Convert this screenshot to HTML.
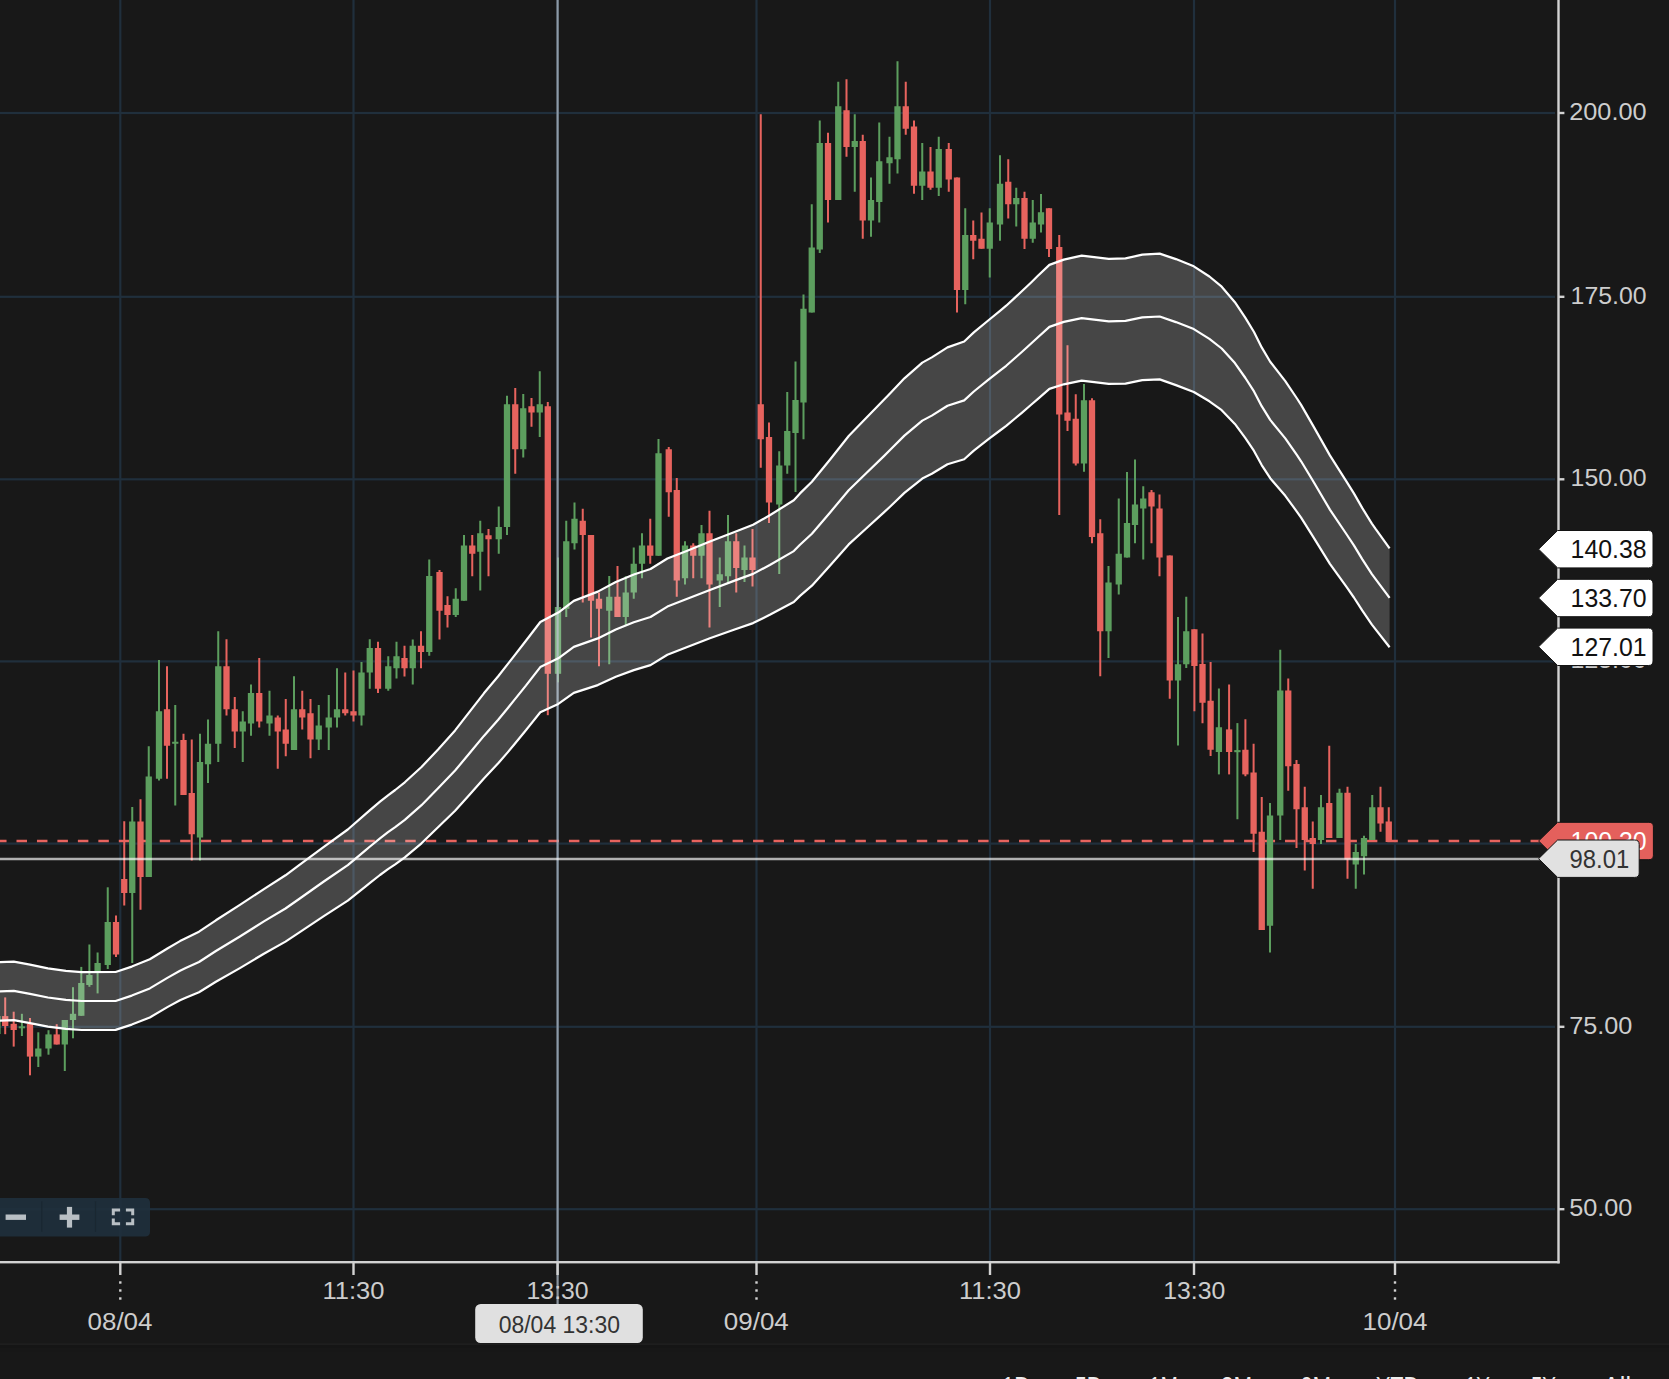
<!DOCTYPE html>
<html lang="en"><head><meta charset="utf-8"><title>Chart</title>
<style>
html,body{margin:0;padding:0;background:#181818;overflow:hidden}
body{width:1669px;height:1379px;position:relative;font-family:"Liberation Sans", sans-serif}
svg{position:absolute;left:0;top:0;display:block}
text{font-family:"Liberation Sans", sans-serif}
.ax{fill:#cdcdcd;font-size:24.6px}
.g{fill:#5c9e5e}
.r{fill:#e7635e}
</style></head><body>
<svg width="1669" height="1379" viewBox="0 0 1669 1379">
<rect x="0" y="0" width="1669" height="1379" fill="#181818"/>
<rect x="0" y="1343.2" width="1669" height="1.8" fill="#1e1e1e"/><rect x="0" y="1345" width="1669" height="3" fill="#151515"/><rect x="0" y="1348" width="1669" height="4" fill="#171717"/>

<g fill="#202f3c">
<rect x="119.20" y="0" width="2.2" height="1261"/>
<rect x="352.40" y="0" width="2.2" height="1261"/>
<rect x="556.50" y="0" width="2.2" height="1261"/>
<rect x="755.40" y="0" width="2.2" height="1261"/>
<rect x="988.90" y="0" width="2.2" height="1261"/>
<rect x="1192.90" y="0" width="2.2" height="1261"/>
<rect x="1393.90" y="0" width="2.2" height="1261"/>
<rect x="0" y="111.90" width="1555" height="2.2"/>
<rect x="0" y="295.70" width="1555" height="2.2"/>
<rect x="0" y="478.20" width="1555" height="2.2"/>
<rect x="0" y="660.30" width="1555" height="2.2"/>
<rect x="0" y="842.50" width="1555" height="2.2"/>
<rect x="0" y="1025.70" width="1555" height="2.2"/>
<rect x="0" y="1208.10" width="1555" height="2.2"/>
</g>
<line x1="-3.96" y1="841" x2="1541" y2="841" stroke="#e7635e" stroke-width="2.3" stroke-dasharray="10.5 9.96"/>
<g>
<rect class="r" x="4.20" y="997.40" width="2.0" height="36.80"/><rect class="r" x="2.05" y="1016.10" width="6.3" height="9.90"/>
<rect class="r" x="12.70" y="1011.70" width="2.0" height="34.90"/><rect class="r" x="10.55" y="1023.80" width="6.3" height="6.20"/>
<rect class="g" x="20.90" y="1013.80" width="2.0" height="22.20"/><rect class="g" x="18.75" y="1026.30" width="6.3" height="2.00"/>
<rect class="r" x="29.00" y="1018.00" width="2.0" height="57.30"/><rect class="r" x="26.85" y="1023.80" width="6.3" height="32.80"/>
<rect class="g" x="37.30" y="1032.30" width="2.0" height="34.70"/><rect class="g" x="35.15" y="1048.50" width="6.3" height="8.10"/>
<rect class="g" x="47.50" y="1030.20" width="2.0" height="24.50"/><rect class="g" x="45.35" y="1034.40" width="6.3" height="14.10"/>
<rect class="r" x="55.70" y="1024.20" width="2.0" height="20.30"/><rect class="r" x="53.55" y="1034.40" width="6.3" height="10.10"/>
<rect class="g" x="63.80" y="1020.00" width="2.0" height="51.00"/><rect class="g" x="61.65" y="1020.00" width="6.3" height="24.50"/>
<rect class="g" x="72.00" y="987.20" width="2.0" height="51.10"/><rect class="g" x="69.85" y="1013.80" width="6.3" height="6.20"/>
<rect class="g" x="80.30" y="966.90" width="2.0" height="48.90"/><rect class="g" x="78.15" y="983.00" width="6.3" height="32.80"/>
<rect class="g" x="88.40" y="944.50" width="2.0" height="42.30"/><rect class="g" x="86.25" y="975.00" width="6.3" height="10.00"/>
<rect class="g" x="96.60" y="952.50" width="2.0" height="40.90"/><rect class="g" x="94.45" y="963.00" width="6.3" height="8.00"/>
<rect class="g" x="106.75" y="887.30" width="2.0" height="81.70"/><rect class="g" x="104.60" y="922.00" width="6.3" height="43.00"/>
<rect class="r" x="115.00" y="915.50" width="2.0" height="41.50"/><rect class="r" x="112.85" y="922.00" width="6.3" height="32.50"/>
<rect class="r" x="123.25" y="821.25" width="2.0" height="84.25"/><rect class="r" x="121.10" y="879.00" width="6.3" height="14.00"/>
<rect class="g" x="131.25" y="807.00" width="2.0" height="156.00"/><rect class="g" x="129.10" y="821.50" width="6.3" height="71.50"/>
<rect class="r" x="139.50" y="799.25" width="2.0" height="110.50"/><rect class="r" x="137.35" y="821.50" width="6.3" height="55.50"/>
<rect class="g" x="147.75" y="746.25" width="2.0" height="130.75"/><rect class="g" x="145.60" y="776.50" width="6.3" height="100.50"/>
<rect class="g" x="158.00" y="660.00" width="2.0" height="120.50"/><rect class="g" x="155.85" y="711.25" width="6.3" height="67.50"/>
<rect class="r" x="166.00" y="666.25" width="2.0" height="112.50"/><rect class="r" x="163.85" y="709.25" width="6.3" height="36.50"/>
<rect class="g" x="174.25" y="705.00" width="2.0" height="100.50"/><rect class="g" x="172.10" y="741.75" width="6.3" height="2.00"/>
<rect class="r" x="182.50" y="733.75" width="2.0" height="61.25"/><rect class="r" x="180.35" y="740.00" width="6.3" height="55.00"/>
<rect class="r" x="190.75" y="739.50" width="2.0" height="121.00"/><rect class="r" x="188.60" y="793.00" width="6.3" height="41.25"/>
<rect class="g" x="199.00" y="733.75" width="2.0" height="126.75"/><rect class="g" x="196.85" y="762.00" width="6.3" height="75.50"/>
<rect class="g" x="207.00" y="719.50" width="2.0" height="63.50"/><rect class="g" x="204.85" y="743.75" width="6.3" height="20.50"/>
<rect class="g" x="217.25" y="631.25" width="2.0" height="130.75"/><rect class="g" x="215.10" y="666.25" width="6.3" height="77.50"/>
<rect class="r" x="225.50" y="639.25" width="2.0" height="76.25"/><rect class="r" x="223.35" y="666.25" width="6.3" height="43.00"/>
<rect class="r" x="233.75" y="697.00" width="2.0" height="51.00"/><rect class="r" x="231.60" y="709.25" width="6.3" height="22.25"/>
<rect class="g" x="241.75" y="711.25" width="2.0" height="50.75"/><rect class="g" x="239.60" y="721.50" width="6.3" height="10.00"/>
<rect class="g" x="250.00" y="684.50" width="2.0" height="51.25"/><rect class="g" x="247.85" y="693.00" width="6.3" height="30.50"/>
<rect class="r" x="258.25" y="658.00" width="2.0" height="69.50"/><rect class="r" x="256.10" y="693.00" width="6.3" height="28.50"/>
<rect class="g" x="268.50" y="690.75" width="2.0" height="45.00"/><rect class="g" x="266.35" y="715.50" width="6.3" height="8.00"/>
<rect class="r" x="276.75" y="715.50" width="2.0" height="53.25"/><rect class="r" x="274.60" y="717.50" width="6.3" height="14.00"/>
<rect class="r" x="284.75" y="699.00" width="2.0" height="57.25"/><rect class="r" x="282.60" y="729.50" width="6.3" height="14.25"/>
<rect class="g" x="293.00" y="676.25" width="2.0" height="73.75"/><rect class="g" x="290.85" y="709.25" width="6.3" height="40.75"/>
<rect class="r" x="301.25" y="690.75" width="2.0" height="38.75"/><rect class="r" x="299.10" y="709.25" width="6.3" height="8.25"/>
<rect class="r" x="309.50" y="699.00" width="2.0" height="59.25"/><rect class="r" x="307.35" y="713.25" width="6.3" height="26.25"/>
<rect class="g" x="317.75" y="705.00" width="2.0" height="45.00"/><rect class="g" x="315.60" y="725.50" width="6.3" height="14.00"/>
<rect class="g" x="327.75" y="695.00" width="2.0" height="55.00"/><rect class="g" x="325.60" y="717.50" width="6.3" height="10.00"/>
<rect class="g" x="336.00" y="668.25" width="2.0" height="59.25"/><rect class="g" x="333.85" y="709.25" width="6.3" height="8.25"/>
<rect class="r" x="344.25" y="672.50" width="2.0" height="43.00"/><rect class="r" x="342.10" y="709.25" width="6.3" height="4.00"/>
<rect class="r" x="352.50" y="670.50" width="2.0" height="51.00"/><rect class="r" x="350.35" y="711.25" width="6.3" height="4.25"/>
<rect class="g" x="360.50" y="662.00" width="2.0" height="63.50"/><rect class="g" x="358.35" y="672.50" width="6.3" height="43.00"/>
<rect class="g" x="368.75" y="639.25" width="2.0" height="49.50"/><rect class="g" x="366.60" y="648.00" width="6.3" height="24.50"/>
<rect class="r" x="377.00" y="641.75" width="2.0" height="51.25"/><rect class="r" x="374.85" y="648.00" width="6.3" height="40.75"/>
<rect class="g" x="387.25" y="656.25" width="2.0" height="34.50"/><rect class="g" x="385.10" y="666.25" width="6.3" height="22.50"/>
<rect class="g" x="395.50" y="641.75" width="2.0" height="36.75"/><rect class="g" x="393.35" y="656.25" width="6.3" height="12.00"/>
<rect class="r" x="403.50" y="645.75" width="2.0" height="30.75"/><rect class="r" x="401.35" y="658.00" width="6.3" height="10.25"/>
<rect class="g" x="411.75" y="639.50" width="2.0" height="45.00"/><rect class="g" x="409.60" y="645.75" width="6.3" height="22.50"/>
<rect class="r" x="420.00" y="631.25" width="2.0" height="37.00"/><rect class="r" x="417.85" y="645.75" width="6.3" height="6.25"/>
<rect class="g" x="428.25" y="559.50" width="2.0" height="96.25"/><rect class="g" x="426.10" y="576.00" width="6.3" height="76.00"/>
<rect class="r" x="438.50" y="570.00" width="2.0" height="69.50"/><rect class="r" x="436.35" y="572.00" width="6.3" height="38.75"/>
<rect class="r" x="446.50" y="596.25" width="2.0" height="31.25"/><rect class="r" x="444.35" y="605.00" width="6.3" height="10.00"/>
<rect class="g" x="454.75" y="588.25" width="2.0" height="28.75"/><rect class="g" x="452.60" y="598.75" width="6.3" height="16.25"/>
<rect class="g" x="463.00" y="535.00" width="2.0" height="65.75"/><rect class="g" x="460.85" y="545.50" width="6.3" height="55.25"/>
<rect class="r" x="471.25" y="535.00" width="2.0" height="41.25"/><rect class="r" x="469.10" y="545.50" width="6.3" height="8.25"/>
<rect class="g" x="479.25" y="520.75" width="2.0" height="69.75"/><rect class="g" x="477.10" y="533.25" width="6.3" height="18.50"/>
<rect class="r" x="487.50" y="529.00" width="2.0" height="47.25"/><rect class="r" x="485.35" y="535.25" width="6.3" height="4.00"/>
<rect class="g" x="497.75" y="506.50" width="2.0" height="47.25"/><rect class="g" x="495.60" y="527.00" width="6.3" height="12.25"/>
<rect class="g" x="506.00" y="395.75" width="2.0" height="139.25"/><rect class="g" x="503.85" y="404.25" width="6.3" height="122.75"/>
<rect class="r" x="514.25" y="388.00" width="2.0" height="85.75"/><rect class="r" x="512.10" y="404.25" width="6.3" height="45.00"/>
<rect class="g" x="522.25" y="394.00" width="2.0" height="63.50"/><rect class="g" x="520.10" y="408.25" width="6.3" height="41.00"/>
<rect class="r" x="530.50" y="398.00" width="2.0" height="28.75"/><rect class="r" x="528.35" y="406.25" width="6.3" height="6.25"/>
<rect class="g" x="538.75" y="371.25" width="2.0" height="65.75"/><rect class="g" x="536.60" y="404.25" width="6.3" height="8.25"/>
<rect class="r" x="546.80" y="402.00" width="2.0" height="313.20"/><rect class="r" x="544.65" y="406.25" width="6.3" height="267.55"/>
<rect class="g" x="557.00" y="557.50" width="2.0" height="124.80"/><rect class="g" x="554.85" y="607.00" width="6.3" height="66.80"/>
<rect class="g" x="565.25" y="520.75" width="2.0" height="96.25"/><rect class="g" x="563.10" y="541.25" width="6.3" height="67.50"/>
<rect class="g" x="573.50" y="502.50" width="2.0" height="47.00"/><rect class="g" x="571.35" y="518.75" width="6.3" height="24.50"/>
<rect class="r" x="581.75" y="508.75" width="2.0" height="93.75"/><rect class="r" x="579.60" y="520.75" width="6.3" height="14.25"/>
<rect class="r" x="590.00" y="535.00" width="2.0" height="102.50"/><rect class="r" x="587.85" y="535.00" width="6.3" height="65.75"/>
<rect class="r" x="598.00" y="592.50" width="2.0" height="73.75"/><rect class="r" x="595.85" y="598.75" width="6.3" height="10.00"/>
<rect class="g" x="608.25" y="576.00" width="2.0" height="88.25"/><rect class="g" x="606.10" y="596.75" width="6.3" height="14.00"/>
<rect class="r" x="616.50" y="566.00" width="2.0" height="51.00"/><rect class="r" x="614.35" y="596.75" width="6.3" height="20.25"/>
<rect class="g" x="624.75" y="576.25" width="2.0" height="48.75"/><rect class="g" x="622.60" y="592.50" width="6.3" height="24.50"/>
<rect class="g" x="632.75" y="547.50" width="2.0" height="51.25"/><rect class="g" x="630.60" y="563.75" width="6.3" height="28.75"/>
<rect class="g" x="641.00" y="533.25" width="2.0" height="45.00"/><rect class="g" x="638.85" y="545.50" width="6.3" height="18.25"/>
<rect class="r" x="649.25" y="518.75" width="2.0" height="45.00"/><rect class="r" x="647.10" y="545.50" width="6.3" height="10.25"/>
<rect class="g" x="657.50" y="439.00" width="2.0" height="116.75"/><rect class="g" x="655.35" y="453.25" width="6.3" height="102.50"/>
<rect class="r" x="667.75" y="447.00" width="2.0" height="69.75"/><rect class="r" x="665.60" y="449.25" width="6.3" height="43.00"/>
<rect class="r" x="675.75" y="478.00" width="2.0" height="118.75"/><rect class="r" x="673.60" y="490.00" width="6.3" height="90.50"/>
<rect class="g" x="684.00" y="541.25" width="2.0" height="43.25"/><rect class="g" x="681.85" y="545.50" width="6.3" height="32.75"/>
<rect class="r" x="692.25" y="543.25" width="2.0" height="35.00"/><rect class="r" x="690.10" y="545.50" width="6.3" height="10.25"/>
<rect class="g" x="700.50" y="525.00" width="2.0" height="53.25"/><rect class="g" x="698.35" y="533.25" width="6.3" height="22.50"/>
<rect class="r" x="708.50" y="510.75" width="2.0" height="116.75"/><rect class="r" x="706.35" y="533.25" width="6.3" height="51.25"/>
<rect class="g" x="718.75" y="557.50" width="2.0" height="49.50"/><rect class="g" x="716.60" y="574.25" width="6.3" height="6.25"/>
<rect class="g" x="727.00" y="515.00" width="2.0" height="67.50"/><rect class="g" x="724.85" y="541.25" width="6.3" height="35.00"/>
<rect class="r" x="735.25" y="533.25" width="2.0" height="59.25"/><rect class="r" x="733.10" y="541.25" width="6.3" height="26.75"/>
<rect class="g" x="743.50" y="545.50" width="2.0" height="36.50"/><rect class="g" x="741.35" y="557.50" width="6.3" height="12.50"/>
<rect class="r" x="751.50" y="529.00" width="2.0" height="57.50"/><rect class="r" x="749.35" y="557.50" width="6.3" height="12.50"/>
<rect class="r" x="759.75" y="114.25" width="2.0" height="353.50"/><rect class="r" x="757.60" y="404.25" width="6.3" height="35.00"/>
<rect class="r" x="768.00" y="422.50" width="2.0" height="100.50"/><rect class="r" x="765.85" y="437.00" width="6.3" height="65.50"/>
<rect class="g" x="778.25" y="451.25" width="2.0" height="122.75"/><rect class="g" x="776.10" y="465.50" width="6.3" height="39.00"/>
<rect class="g" x="786.25" y="392.00" width="2.0" height="81.75"/><rect class="g" x="784.10" y="431.00" width="6.3" height="34.50"/>
<rect class="g" x="794.50" y="361.50" width="2.0" height="130.50"/><rect class="g" x="792.35" y="400.00" width="6.3" height="33.00"/>
<rect class="g" x="802.50" y="294.50" width="2.0" height="144.75"/><rect class="g" x="800.35" y="308.75" width="6.3" height="93.75"/>
<rect class="g" x="810.75" y="204.25" width="2.0" height="108.25"/><rect class="g" x="808.60" y="247.50" width="6.3" height="65.00"/>
<rect class="g" x="818.75" y="120.50" width="2.0" height="132.50"/><rect class="g" x="816.60" y="143.00" width="6.3" height="106.50"/>
<rect class="r" x="827.00" y="132.75" width="2.0" height="89.75"/><rect class="r" x="824.85" y="143.00" width="6.3" height="57.00"/>
<rect class="g" x="837.25" y="81.75" width="2.0" height="118.25"/><rect class="g" x="835.10" y="106.25" width="6.3" height="93.75"/>
<rect class="r" x="845.50" y="79.25" width="2.0" height="77.50"/><rect class="r" x="843.35" y="110.25" width="6.3" height="36.75"/>
<rect class="g" x="853.75" y="114.25" width="2.0" height="77.50"/><rect class="g" x="851.60" y="141.00" width="6.3" height="6.00"/>
<rect class="r" x="861.75" y="134.75" width="2.0" height="104.00"/><rect class="r" x="859.60" y="141.00" width="6.3" height="79.50"/>
<rect class="g" x="870.00" y="177.50" width="2.0" height="59.25"/><rect class="g" x="867.85" y="200.00" width="6.3" height="20.50"/>
<rect class="g" x="878.25" y="122.50" width="2.0" height="100.00"/><rect class="g" x="876.10" y="161.25" width="6.3" height="40.75"/>
<rect class="g" x="888.50" y="136.75" width="2.0" height="47.00"/><rect class="g" x="886.35" y="157.25" width="6.3" height="6.00"/>
<rect class="g" x="896.50" y="61.25" width="2.0" height="112.25"/><rect class="g" x="894.35" y="106.25" width="6.3" height="53.00"/>
<rect class="r" x="904.75" y="81.75" width="2.0" height="53.00"/><rect class="r" x="902.60" y="106.25" width="6.3" height="22.50"/>
<rect class="r" x="913.00" y="120.50" width="2.0" height="73.25"/><rect class="r" x="910.85" y="126.50" width="6.3" height="59.25"/>
<rect class="g" x="921.25" y="143.00" width="2.0" height="57.00"/><rect class="g" x="919.10" y="171.50" width="6.3" height="14.25"/>
<rect class="r" x="929.50" y="147.00" width="2.0" height="42.75"/><rect class="r" x="927.35" y="171.50" width="6.3" height="16.25"/>
<rect class="g" x="937.75" y="136.75" width="2.0" height="59.25"/><rect class="g" x="935.60" y="149.00" width="6.3" height="38.75"/>
<rect class="r" x="947.75" y="143.00" width="2.0" height="48.75"/><rect class="r" x="945.60" y="149.00" width="6.3" height="30.50"/>
<rect class="r" x="956.00" y="177.50" width="2.0" height="135.00"/><rect class="r" x="953.85" y="177.50" width="6.3" height="112.50"/>
<rect class="g" x="964.25" y="208.25" width="2.0" height="96.00"/><rect class="g" x="962.10" y="235.00" width="6.3" height="55.00"/>
<rect class="r" x="972.25" y="220.50" width="2.0" height="38.75"/><rect class="r" x="970.10" y="235.00" width="6.3" height="5.75"/>
<rect class="r" x="980.50" y="212.50" width="2.0" height="36.25"/><rect class="r" x="978.35" y="238.75" width="6.3" height="10.00"/>
<rect class="g" x="988.75" y="208.25" width="2.0" height="69.25"/><rect class="g" x="986.60" y="222.50" width="6.3" height="26.25"/>
<rect class="g" x="999.00" y="155.25" width="2.0" height="85.50"/><rect class="g" x="996.85" y="183.75" width="6.3" height="40.75"/>
<rect class="r" x="1007.25" y="159.25" width="2.0" height="59.25"/><rect class="r" x="1005.10" y="181.75" width="6.3" height="22.50"/>
<rect class="g" x="1015.25" y="187.75" width="2.0" height="38.75"/><rect class="g" x="1013.10" y="198.00" width="6.3" height="6.25"/>
<rect class="r" x="1023.50" y="191.75" width="2.0" height="57.25"/><rect class="r" x="1021.35" y="198.00" width="6.3" height="40.75"/>
<rect class="g" x="1031.75" y="200.00" width="2.0" height="42.75"/><rect class="g" x="1029.60" y="222.50" width="6.3" height="16.25"/>
<rect class="g" x="1040.00" y="194.00" width="2.0" height="38.50"/><rect class="g" x="1037.85" y="212.25" width="6.3" height="12.25"/>
<rect class="r" x="1048.00" y="208.25" width="2.0" height="48.75"/><rect class="r" x="1045.85" y="208.25" width="6.3" height="40.75"/>
<rect class="r" x="1058.25" y="235.00" width="2.0" height="280.00"/><rect class="r" x="1056.10" y="247.00" width="6.3" height="167.50"/>
<rect class="r" x="1066.50" y="345.25" width="2.0" height="85.75"/><rect class="r" x="1064.35" y="412.50" width="6.3" height="8.25"/>
<rect class="r" x="1074.75" y="394.25" width="2.0" height="71.25"/><rect class="r" x="1072.60" y="418.75" width="6.3" height="44.75"/>
<rect class="g" x="1083.00" y="384.00" width="2.0" height="87.75"/><rect class="g" x="1080.85" y="400.25" width="6.3" height="63.25"/>
<rect class="r" x="1091.00" y="398.25" width="2.0" height="145.00"/><rect class="r" x="1088.85" y="400.25" width="6.3" height="136.75"/>
<rect class="r" x="1099.25" y="519.25" width="2.0" height="157.00"/><rect class="r" x="1097.10" y="533.25" width="6.3" height="98.00"/>
<rect class="g" x="1107.50" y="566.00" width="2.0" height="92.00"/><rect class="g" x="1105.35" y="582.50" width="6.3" height="48.75"/>
<rect class="g" x="1117.75" y="498.50" width="2.0" height="96.00"/><rect class="g" x="1115.60" y="553.75" width="6.3" height="30.75"/>
<rect class="g" x="1126.00" y="472.00" width="2.0" height="85.50"/><rect class="g" x="1123.85" y="523.00" width="6.3" height="34.50"/>
<rect class="g" x="1134.00" y="459.50" width="2.0" height="83.75"/><rect class="g" x="1131.85" y="504.50" width="6.3" height="20.50"/>
<rect class="g" x="1142.25" y="486.25" width="2.0" height="73.25"/><rect class="g" x="1140.10" y="498.50" width="6.3" height="10.00"/>
<rect class="r" x="1150.50" y="490.00" width="2.0" height="53.25"/><rect class="r" x="1148.35" y="492.25" width="6.3" height="14.25"/>
<rect class="r" x="1158.50" y="494.50" width="2.0" height="81.75"/><rect class="r" x="1156.35" y="508.50" width="6.3" height="49.00"/>
<rect class="r" x="1168.75" y="555.50" width="2.0" height="143.25"/><rect class="r" x="1166.60" y="555.50" width="6.3" height="125.00"/>
<rect class="g" x="1177.00" y="617.00" width="2.0" height="128.50"/><rect class="g" x="1174.85" y="664.25" width="6.3" height="16.25"/>
<rect class="g" x="1185.25" y="596.75" width="2.0" height="71.25"/><rect class="g" x="1183.10" y="631.25" width="6.3" height="33.00"/>
<rect class="r" x="1193.40" y="629.25" width="2.0" height="82.00"/><rect class="r" x="1191.25" y="629.25" width="6.3" height="36.75"/>
<rect class="r" x="1201.50" y="633.50" width="2.0" height="89.75"/><rect class="r" x="1199.35" y="664.00" width="6.3" height="38.75"/>
<rect class="r" x="1209.60" y="662.00" width="2.0" height="94.00"/><rect class="r" x="1207.45" y="700.75" width="6.3" height="49.00"/>
<rect class="g" x="1217.90" y="688.50" width="2.0" height="85.90"/><rect class="g" x="1215.75" y="727.25" width="6.3" height="24.75"/>
<rect class="r" x="1228.10" y="684.50" width="2.0" height="89.90"/><rect class="r" x="1225.95" y="729.40" width="6.3" height="22.60"/>
<rect class="g" x="1236.40" y="723.10" width="2.0" height="96.15"/><rect class="g" x="1234.25" y="750.10" width="6.3" height="2.10"/>
<rect class="r" x="1244.40" y="719.25" width="2.0" height="57.00"/><rect class="r" x="1242.25" y="749.75" width="6.3" height="24.65"/>
<rect class="r" x="1252.60" y="743.75" width="2.0" height="108.25"/><rect class="r" x="1250.45" y="772.50" width="6.3" height="61.25"/>
<rect class="r" x="1260.75" y="797.00" width="2.0" height="133.00"/><rect class="r" x="1258.60" y="831.75" width="6.3" height="98.25"/>
<rect class="g" x="1269.00" y="803.00" width="2.0" height="149.50"/><rect class="g" x="1266.85" y="815.50" width="6.3" height="110.25"/>
<rect class="g" x="1279.25" y="649.75" width="2.0" height="190.25"/><rect class="g" x="1277.10" y="690.50" width="6.3" height="125.00"/>
<rect class="r" x="1287.25" y="678.50" width="2.0" height="112.25"/><rect class="r" x="1285.10" y="690.50" width="6.3" height="75.75"/>
<rect class="r" x="1295.50" y="760.00" width="2.0" height="88.00"/><rect class="r" x="1293.35" y="764.00" width="6.3" height="45.25"/>
<rect class="r" x="1303.75" y="786.75" width="2.0" height="83.75"/><rect class="r" x="1301.60" y="807.25" width="6.3" height="32.75"/>
<rect class="r" x="1311.75" y="821.50" width="2.0" height="67.25"/><rect class="r" x="1309.60" y="838.00" width="6.3" height="6.00"/>
<rect class="g" x="1320.00" y="795.00" width="2.0" height="49.00"/><rect class="g" x="1317.85" y="807.25" width="6.3" height="32.75"/>
<rect class="r" x="1328.25" y="745.75" width="2.0" height="92.25"/><rect class="r" x="1326.10" y="803.00" width="6.3" height="35.00"/>
<rect class="g" x="1338.50" y="788.75" width="2.0" height="49.25"/><rect class="g" x="1336.35" y="792.75" width="6.3" height="45.25"/>
<rect class="r" x="1346.50" y="786.75" width="2.0" height="92.00"/><rect class="r" x="1344.35" y="792.75" width="6.3" height="66.75"/>
<rect class="g" x="1354.75" y="844.00" width="2.0" height="44.75"/><rect class="g" x="1352.60" y="852.00" width="6.3" height="12.50"/>
<rect class="g" x="1363.00" y="835.75" width="2.0" height="38.75"/><rect class="g" x="1360.85" y="838.00" width="6.3" height="18.25"/>
<rect class="g" x="1371.25" y="795.00" width="2.0" height="45.00"/><rect class="g" x="1369.10" y="807.25" width="6.3" height="32.75"/>
<rect class="r" x="1379.50" y="786.75" width="2.0" height="45.00"/><rect class="r" x="1377.35" y="807.25" width="6.3" height="16.25"/>
<rect class="r" x="1387.75" y="807.25" width="2.0" height="34.75"/><rect class="r" x="1385.60" y="821.50" width="6.3" height="20.50"/>
<rect class="g" x="-2" y="1016" width="2.6" height="18"/>
</g>
<rect x="556.50" y="0" width="2.2" height="1305" fill="#a9b4c0" fill-opacity="0.8"/>
<rect x="0" y="857.75" width="1541" height="2.5" fill="#ffffff" fill-opacity="0.66"/>
<polygon points="-3.0,962.2 0.0,962.2 13.8,961.6 30.0,964.7 47.9,968.4 65.9,970.9 81.5,972.1 115.6,972.0 131.8,966.6 149.8,959.3 167.8,948.2 180.0,941.1 185.7,938.3 199.0,931.7 215.9,920.3 239.9,904.9 263.9,889.1 285.5,875.3 299.8,864.7 323.8,846.9 347.8,829.5 365.7,813.9 370.0,810.1 380.0,801.6 388.0,795.3 395.2,790.0 404.8,782.3 421.5,767.0 438.3,749.2 455.1,730.4 469.5,711.9 483.9,693.3 498.2,676.2 507.9,663.9 513.8,656.3 525.9,640.8 529.2,636.5 540.3,622.0 558.3,612.6 573.8,600.9 597.8,591.6 615.8,582.0 633.8,574.5 650.5,569.0 667.4,558.5 686.0,551.2 709.9,541.6 733.9,532.2 753.1,524.7 769.8,515.3 793.8,500.2 800.0,493.4 811.9,481.7 829.9,459.7 848.7,436.0 865.9,418.2 883.9,399.8 890.0,393.4 904.4,378.3 922.3,362.6 931.8,357.4 947.5,347.4 964.2,341.5 973.8,332.4 988.8,320.0 1000.0,310.9 1006.2,305.7 1015.0,297.6 1021.8,291.3 1031.4,282.2 1037.4,276.3 1049.4,264.9 1063.8,259.6 1081.7,255.6 1108.8,258.8 1125.5,258.3 1142.3,254.7 1159.7,253.6 1175.9,259.1 1193.8,266.3 1209.4,276.5 1221.7,286.7 1234.9,302.2 1245.4,317.9 1254.0,332.0 1261.7,347.4 1270.2,361.7 1285.3,381.1 1297.0,398.5 1301.1,404.9 1313.2,425.9 1329.9,455.4 1346.7,481.8 1353.9,493.4 1362.2,507.9 1371.9,523.6 1375.4,528.7 1389.6,548.4 1389.6,647.2 1375.4,629.2 1371.9,624.6 1362.2,610.4 1353.9,597.5 1346.7,587.2 1329.9,563.8 1313.2,536.8 1301.1,517.6 1297.0,511.8 1285.3,495.8 1270.2,478.2 1261.7,465.1 1254.0,450.9 1245.4,438.2 1234.9,423.9 1221.7,410.2 1209.4,401.3 1193.8,392.0 1175.9,385.1 1159.7,379.4 1142.3,380.2 1125.5,383.6 1108.8,383.8 1081.7,380.6 1063.8,384.3 1049.4,388.9 1037.4,399.3 1031.4,404.5 1021.8,412.8 1015.0,418.5 1006.2,425.9 1000.0,430.5 988.8,438.9 973.8,450.6 964.2,459.3 947.5,464.3 931.8,473.8 922.3,478.6 904.4,492.9 890.0,506.7 883.9,512.4 865.9,528.7 848.7,544.4 829.9,565.8 811.9,585.7 800.0,595.9 793.8,602.0 769.8,614.8 753.1,623.1 733.9,629.7 709.9,638.3 686.0,647.4 667.4,654.7 650.5,665.1 633.8,670.1 615.8,676.7 597.8,685.1 573.8,692.9 558.3,703.9 540.3,712.2 529.2,726.1 525.9,730.3 513.8,745.0 507.9,752.1 498.2,763.3 483.9,778.4 469.5,794.7 455.1,810.7 438.3,827.0 421.5,843.3 404.8,857.3 395.2,864.3 388.0,869.2 380.0,875.0 370.0,882.9 365.7,886.3 347.8,900.6 323.8,916.2 299.8,932.2 285.5,941.6 263.9,953.7 239.9,968.1 215.9,981.8 199.0,992.2 185.7,997.8 180.0,1000.3 167.8,1006.9 149.8,1017.5 131.8,1024.6 115.6,1029.9 81.5,1030.0 65.9,1028.9 47.9,1026.6 30.0,1023.1 13.8,1020.1 0.0,1020.6 -3.0,1020.6" fill="#ffffff" fill-opacity="0.2"/>
<polyline points="-3.0,962.2 0.0,962.2 13.8,961.6 30.0,964.7 47.9,968.4 65.9,970.9 81.5,972.1 115.6,972.0 131.8,966.6 149.8,959.3 167.8,948.2 180.0,941.1 185.7,938.3 199.0,931.7 215.9,920.3 239.9,904.9 263.9,889.1 285.5,875.3 299.8,864.7 323.8,846.9 347.8,829.5 365.7,813.9 370.0,810.1 380.0,801.6 388.0,795.3 395.2,790.0 404.8,782.3 421.5,767.0 438.3,749.2 455.1,730.4 469.5,711.9 483.9,693.3 498.2,676.2 507.9,663.9 513.8,656.3 525.9,640.8 529.2,636.5 540.3,622.0 558.3,612.6 573.8,600.9 597.8,591.6 615.8,582.0 633.8,574.5 650.5,569.0 667.4,558.5 686.0,551.2 709.9,541.6 733.9,532.2 753.1,524.7 769.8,515.3 793.8,500.2 800.0,493.4 811.9,481.7 829.9,459.7 848.7,436.0 865.9,418.2 883.9,399.8 890.0,393.4 904.4,378.3 922.3,362.6 931.8,357.4 947.5,347.4 964.2,341.5 973.8,332.4 988.8,320.0 1000.0,310.9 1006.2,305.7 1015.0,297.6 1021.8,291.3 1031.4,282.2 1037.4,276.3 1049.4,264.9 1063.8,259.6 1081.7,255.6 1108.8,258.8 1125.5,258.3 1142.3,254.7 1159.7,253.6 1175.9,259.1 1193.8,266.3 1209.4,276.5 1221.7,286.7 1234.9,302.2 1245.4,317.9 1254.0,332.0 1261.7,347.4 1270.2,361.7 1285.3,381.1 1297.0,398.5 1301.1,404.9 1313.2,425.9 1329.9,455.4 1346.7,481.8 1353.9,493.4 1362.2,507.9 1371.9,523.6 1375.4,528.7 1389.6,548.4" fill="none" stroke="#ffffff" stroke-width="2.2" stroke-linejoin="round" stroke-linecap="butt"/>
<polyline points="-3.0,991.4 0.0,991.4 13.8,990.8 30.0,993.9 47.9,997.5 65.9,999.9 81.5,1001.0 115.6,1001.0 131.8,995.6 149.8,988.4 167.8,977.6 180.0,970.7 185.7,968.1 199.0,962.0 215.9,951.0 239.9,936.5 263.9,921.4 285.5,908.5 299.8,898.5 323.8,881.5 347.8,865.1 365.7,850.1 370.0,846.5 380.0,838.3 388.0,832.2 395.2,827.1 404.8,819.8 421.5,805.2 438.3,788.1 455.1,770.5 469.5,753.3 483.9,735.9 498.2,719.7 507.9,708.0 513.8,700.6 525.9,685.6 529.2,681.3 540.3,667.1 558.3,658.3 573.8,646.9 597.8,638.4 615.8,629.4 633.8,622.3 650.5,617.0 667.4,606.6 686.0,599.3 709.9,589.9 733.9,580.9 753.1,573.9 769.8,565.0 793.8,551.1 800.0,544.7 811.9,533.7 829.9,512.7 848.7,490.2 865.9,473.5 883.9,456.1 890.0,450.0 904.4,435.6 922.3,420.6 931.8,415.6 947.5,405.8 964.2,400.4 973.8,391.5 988.8,379.4 1000.0,370.7 1006.2,365.8 1015.0,358.0 1021.8,352.0 1031.4,343.3 1037.4,337.8 1049.4,326.9 1063.8,321.9 1081.7,318.1 1108.8,321.3 1125.5,320.9 1142.3,317.4 1159.7,316.5 1175.9,322.1 1193.8,329.1 1209.4,338.9 1221.7,348.5 1234.9,363.1 1245.4,378.0 1254.0,391.4 1261.7,406.2 1270.2,419.9 1285.3,438.4 1297.0,455.2 1301.1,461.3 1313.2,481.3 1329.9,509.6 1346.7,534.5 1353.9,545.4 1362.2,559.1 1371.9,574.1 1375.4,578.9 1389.6,597.8" fill="none" stroke="#ffffff" stroke-width="2.2" stroke-linejoin="round" stroke-linecap="butt"/>
<polyline points="-3.0,1020.6 0.0,1020.6 13.8,1020.1 30.0,1023.1 47.9,1026.6 65.9,1028.9 81.5,1030.0 115.6,1029.9 131.8,1024.6 149.8,1017.5 167.8,1006.9 180.0,1000.3 185.7,997.8 199.0,992.2 215.9,981.8 239.9,968.1 263.9,953.7 285.5,941.6 299.8,932.2 323.8,916.2 347.8,900.6 365.7,886.3 370.0,882.9 380.0,875.0 388.0,869.2 395.2,864.3 404.8,857.3 421.5,843.3 438.3,827.0 455.1,810.7 469.5,794.7 483.9,778.4 498.2,763.3 507.9,752.1 513.8,745.0 525.9,730.3 529.2,726.1 540.3,712.2 558.3,703.9 573.8,692.9 597.8,685.1 615.8,676.7 633.8,670.1 650.5,665.1 667.4,654.7 686.0,647.4 709.9,638.3 733.9,629.7 753.1,623.1 769.8,614.8 793.8,602.0 800.0,595.9 811.9,585.7 829.9,565.8 848.7,544.4 865.9,528.7 883.9,512.4 890.0,506.7 904.4,492.9 922.3,478.6 931.8,473.8 947.5,464.3 964.2,459.3 973.8,450.6 988.8,438.9 1000.0,430.5 1006.2,425.9 1015.0,418.5 1021.8,412.8 1031.4,404.5 1037.4,399.3 1049.4,388.9 1063.8,384.3 1081.7,380.6 1108.8,383.8 1125.5,383.6 1142.3,380.2 1159.7,379.4 1175.9,385.1 1193.8,392.0 1209.4,401.3 1221.7,410.2 1234.9,423.9 1245.4,438.2 1254.0,450.9 1261.7,465.1 1270.2,478.2 1285.3,495.8 1297.0,511.8 1301.1,517.6 1313.2,536.8 1329.9,563.8 1346.7,587.2 1353.9,597.5 1362.2,610.4 1371.9,624.6 1375.4,629.2 1389.6,647.2" fill="none" stroke="#ffffff" stroke-width="2.2" stroke-linejoin="round" stroke-linecap="butt"/>
<rect x="0" y="1261" width="1559.6" height="2.4" fill="#d2d2d2"/>
<rect x="1557.3" y="0" width="2.4" height="1263.4" fill="#d2d2d2"/>
<rect x="1558" y="111.80" width="6.4" height="2.4" fill="#d2d2d2"/>
<text class="ax" x="1569.2" y="120.00" textLength="77.4" lengthAdjust="spacingAndGlyphs">200.00</text>
<rect x="1558" y="295.60" width="6.4" height="2.4" fill="#d2d2d2"/>
<text class="ax" x="1570.6" y="303.80" textLength="76.0" lengthAdjust="spacingAndGlyphs">175.00</text>
<rect x="1558" y="478.10" width="6.4" height="2.4" fill="#d2d2d2"/>
<text class="ax" x="1570.6" y="486.30" textLength="76.0" lengthAdjust="spacingAndGlyphs">150.00</text>
<rect x="1558" y="660.20" width="6.4" height="2.4" fill="#d2d2d2"/>
<text class="ax" x="1570.6" y="668.40" textLength="76.0" lengthAdjust="spacingAndGlyphs">125.00</text>
<rect x="1558" y="1025.60" width="6.4" height="2.4" fill="#d2d2d2"/>
<text class="ax" x="1569.2" y="1033.80" textLength="63.2" lengthAdjust="spacingAndGlyphs">75.00</text>
<rect x="1558" y="1208.00" width="6.4" height="2.4" fill="#d2d2d2"/>
<text class="ax" x="1569.2" y="1216.20" textLength="63.2" lengthAdjust="spacingAndGlyphs">50.00</text>
<rect x="119.10" y="1262" width="2.4" height="13" fill="#d2d2d2"/>
<rect x="352.30" y="1262" width="2.4" height="13" fill="#d2d2d2"/>
<rect x="556.40" y="1262" width="2.4" height="13" fill="#d2d2d2"/>
<rect x="755.30" y="1262" width="2.4" height="13" fill="#d2d2d2"/>
<rect x="988.80" y="1262" width="2.4" height="13" fill="#d2d2d2"/>
<rect x="1192.80" y="1262" width="2.4" height="13" fill="#d2d2d2"/>
<rect x="1393.80" y="1262" width="2.4" height="13" fill="#d2d2d2"/>
<rect x="119.10" y="1281.30" width="2.4" height="2.4" fill="#d2d2d2"/>
<rect x="119.10" y="1289.30" width="2.4" height="2.4" fill="#d2d2d2"/>
<rect x="119.10" y="1297.30" width="2.4" height="2.4" fill="#d2d2d2"/>
<rect x="755.30" y="1281.30" width="2.4" height="2.4" fill="#d2d2d2"/>
<rect x="755.30" y="1289.30" width="2.4" height="2.4" fill="#d2d2d2"/>
<rect x="755.30" y="1297.30" width="2.4" height="2.4" fill="#d2d2d2"/>
<rect x="1393.80" y="1281.30" width="2.4" height="2.4" fill="#d2d2d2"/>
<rect x="1393.80" y="1289.30" width="2.4" height="2.4" fill="#d2d2d2"/>
<rect x="1393.80" y="1297.30" width="2.4" height="2.4" fill="#d2d2d2"/>
<text class="ax" x="322.50" y="1299.20" textLength="62" lengthAdjust="spacingAndGlyphs" >11:30</text>
<text class="ax" x="526.60" y="1299.20" textLength="62" lengthAdjust="spacingAndGlyphs" >13:30</text>
<text class="ax" x="959.00" y="1299.20" textLength="62" lengthAdjust="spacingAndGlyphs" >11:30</text>
<text class="ax" x="1163.30" y="1299.20" textLength="62" lengthAdjust="spacingAndGlyphs" >13:30</text>
<text class="ax" x="87.50" y="1330.00" textLength="65" lengthAdjust="spacingAndGlyphs" >08/04</text>
<text class="ax" x="723.80" y="1330.00" textLength="65" lengthAdjust="spacingAndGlyphs" >09/04</text>
<text class="ax" x="1362.50" y="1330.00" textLength="65" lengthAdjust="spacingAndGlyphs" >10/04</text>
<path d="M1538.6,549.2 L1557.6,530.5 L1648.5,530.5 Q1653,530.5 1653,535.0 L1653,563.4000000000001 Q1653,567.9000000000001 1648.5,567.9000000000001 L1557.6,567.9000000000001 Z" fill="#ffffff" stroke="#131313" stroke-width="1"/>
<text x="1570.6" y="558.30" font-size="24.9" fill="#111111" textLength="76.0" lengthAdjust="spacingAndGlyphs">140.38</text>
<path d="M1538.6,598 L1557.6,579.3 L1648.5,579.3 Q1653,579.3 1653,583.8 L1653,612.2 Q1653,616.7 1648.5,616.7 L1557.6,616.7 Z" fill="#ffffff" stroke="#131313" stroke-width="1"/>
<text x="1570.6" y="607.10" font-size="24.9" fill="#111111" textLength="76.0" lengthAdjust="spacingAndGlyphs">133.70</text>
<path d="M1538.6,646.8 L1557.6,628.0999999999999 L1648.5,628.0999999999999 Q1653,628.0999999999999 1653,632.5999999999999 L1653,661.0 Q1653,665.5 1648.5,665.5 L1557.6,665.5 Z" fill="#ffffff" stroke="#131313" stroke-width="1"/>
<text x="1570.6" y="655.90" font-size="24.9" fill="#111111" textLength="76.0" lengthAdjust="spacingAndGlyphs">127.01</text>
<path d="M1538.6,841 L1557.6,822.3 L1648.9,822.3 Q1653.4,822.3 1653.4,826.8 L1653.4,855.2 Q1653.4,859.7 1648.9,859.7 L1557.6,859.7 Z" fill="#e4605c" stroke="#131313" stroke-width="1"/>
<text x="1570.6" y="850.10" font-size="24.9" fill="#ffffff" textLength="76.0" lengthAdjust="spacingAndGlyphs">100.30</text>
<path d="M1538.6,858.7 L1557.6,840.0 L1634.7,840.0 Q1639.2,840.0 1639.2,844.5 L1639.2,872.9000000000001 Q1639.2,877.4000000000001 1634.7,877.4000000000001 L1557.6,877.4000000000001 Z" fill="#e1e1e1" stroke="#131313" stroke-width="1"/>
<text x="1569.6" y="867.80" font-size="24.9" fill="#333333" textLength="59.6" lengthAdjust="spacingAndGlyphs">98.01</text>
<rect x="475.2" y="1304" width="167.6" height="39" rx="5.5" fill="#e0e0e0"/>
<text x="498.7" y="1332.8" font-size="24.6" fill="#333333" textLength="121.3" lengthAdjust="spacingAndGlyphs">08/04 13:30</text>
<path d="M-5,1198 L145,1198 Q150,1198 150,1203 L150,1231.5 Q150,1236.5 145,1236.5 L-5,1236.5 Z" fill="#20303d" fill-opacity="0.92"/>
<rect x="41.2" y="1201.3" width="1.2" height="30.5" fill="#1a2731"/><rect x="94.9" y="1201.3" width="1.2" height="30.5" fill="#1a2731"/>
<rect x="5.6" y="1214.5" width="20.4" height="5.4" fill="#b9bfc4"/>
<rect x="59.6" y="1214.5" width="19.8" height="5.4" fill="#b9bfc4"/><rect x="66.9" y="1206.9" width="5.2" height="20.7" fill="#b9bfc4"/>
<path d="M113.3,1215.3 V1210.1 H120.1 M125.9,1210.1 H132.7 V1215.3 M132.7,1218.6 V1223.7 H125.9 M120.1,1223.7 H113.3 V1218.6" fill="none" stroke="#b9bfc4" stroke-width="3"/>
<text x="1002" y="1395" font-size="25" fill="#ededed" textLength="28" lengthAdjust="spacingAndGlyphs">1D</text>
<text x="1075" y="1395" font-size="25" fill="#ededed" textLength="27" lengthAdjust="spacingAndGlyphs">5D</text>
<text x="1149" y="1395" font-size="25" fill="#ededed" textLength="29" lengthAdjust="spacingAndGlyphs">1M</text>
<text x="1221" y="1395" font-size="25" fill="#ededed" textLength="31" lengthAdjust="spacingAndGlyphs">3M</text>
<text x="1300" y="1395" font-size="25" fill="#ededed" textLength="31" lengthAdjust="spacingAndGlyphs">6M</text>
<text x="1376" y="1395" font-size="25" fill="#ededed" textLength="43" lengthAdjust="spacingAndGlyphs">YTD</text>
<text x="1465" y="1395" font-size="25" fill="#ededed" textLength="25" lengthAdjust="spacingAndGlyphs">1Y</text>
<text x="1531" y="1395" font-size="25" fill="#ededed" textLength="25" lengthAdjust="spacingAndGlyphs">5Y</text>
<text x="1603" y="1395" font-size="25" fill="#ededed" textLength="28" lengthAdjust="spacingAndGlyphs">All</text>
</svg></body></html>
